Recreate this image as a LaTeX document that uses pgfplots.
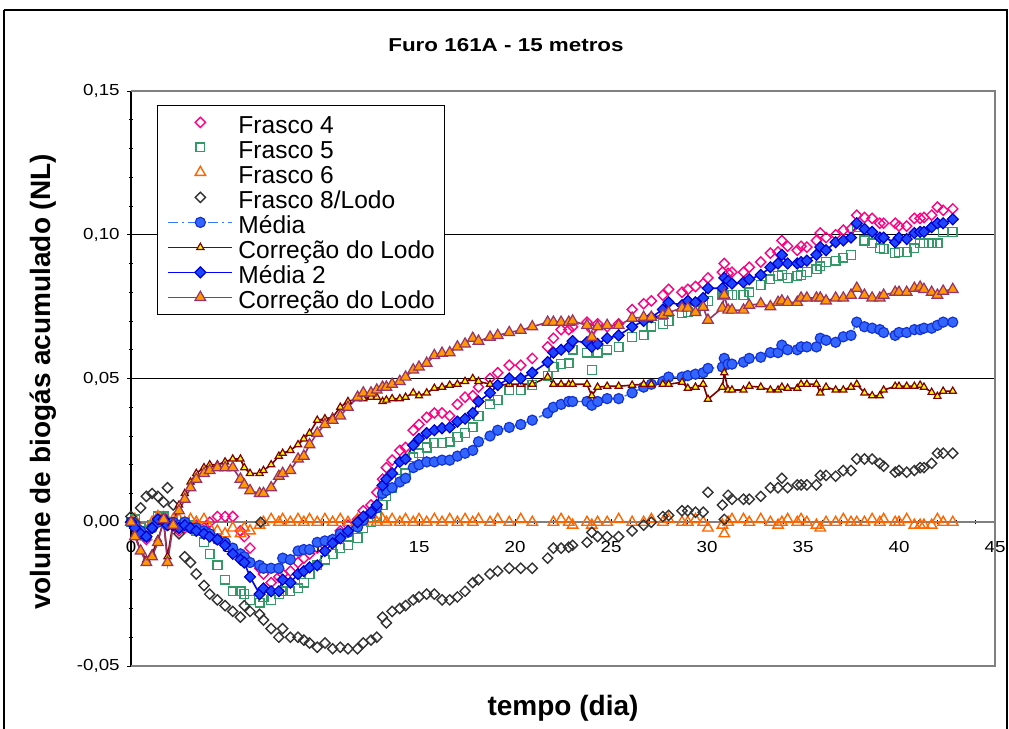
\documentclass[border=0pt]{standalone}
\usepackage{fontspec}
\setmainfont{Liberation Sans}
\usepackage{pgfplots}
\usepackage{pgfplotstable}
\pgfplotsset{compat=1.18}

\definecolor{f4col}{RGB}{255,0,128}
\definecolor{f5col}{RGB}{51,153,102}
\definecolor{f6col}{RGB}{255,102,0}
\definecolor{f8col}{RGB}{51,51,51}
\definecolor{medfill}{RGB}{51,102,255}
\definecolor{mededge}{RGB}{20,50,210}
\definecolor{medline}{RGB}{51,120,255}
\definecolor{corline}{RGB}{128,0,0}
\definecolor{coryel}{RGB}{255,255,0}
\definecolor{med2fill}{RGB}{30,70,255}
\definecolor{med2edge}{RGB}{0,0,204}
\definecolor{med2line}{RGB}{0,0,255}
\definecolor{cor2line}{RGB}{153,51,102}
\definecolor{cor2fill}{RGB}{255,153,0}

% d = tempo (dia); volumes acumulados em NL
\pgfplotstableread{
d     f4      f5      f6      f8      med     cor     med2    cor2
0.0   0.000   0.000   0.000   0.002   0.000   0.000   0.000   0.000
0.2  -0.002   0.001   0.001   0.000  -0.001  -0.004  -0.002  -0.005
0.5  -0.004  -0.002  -0.003   0.005  -0.003  -0.010  -0.004  -0.010
0.8  -0.006  -0.003  -0.005   0.009  -0.005  -0.013  -0.005  -0.014
1.1  -0.002  -0.001   0.000   0.010  -0.002  -0.011  -0.002  -0.012
1.4   0.001   0.002   0.002   0.009   0.000  -0.006   0.001  -0.007
1.7   0.002   0.002   0.001   0.007   0.001   0.000   0.001   0.001
1.9  -0.001   0.000   0.000   0.012  -0.001  -0.012  -0.001  -0.014
2.2  -0.001   0.000   0.001   0.006   0.000   0.000  -0.001  -0.001
2.5  -0.003  -0.001   0.001  -0.004  -0.001   0.006  -0.002   0.004
2.8  -0.002   0.000   0.000  -0.012   0.000   0.010  -0.001   0.008
3.1  -0.002  -0.001   0.001  -0.014  -0.002   0.014  -0.002   0.012
3.4  -0.001  -0.003   0.000  -0.018  -0.002   0.017  -0.003   0.015
3.8  -0.002  -0.007   0.001  -0.022  -0.003   0.019  -0.004   0.017
4.1   0.000  -0.011  -0.002  -0.025  -0.004   0.020  -0.005   0.018
4.5   0.002  -0.015  -0.003  -0.027  -0.006   0.020  -0.006   0.019
4.9   0.002  -0.020  -0.004  -0.029  -0.007   0.021  -0.008   0.019
5.3   0.002  -0.024  -0.002  -0.031  -0.009   0.022  -0.011   0.019
5.7  -0.003  -0.024  -0.004  -0.033  -0.011   0.022  -0.013   0.015
5.9  -0.005  -0.025  -0.002  -0.029  -0.012   0.019  -0.014   0.013
6.2  -0.009  -0.027  -0.003  -0.031  -0.014   0.017  -0.019   0.011
6.7  -0.016  -0.028  -0.001  -0.032  -0.015   0.017  -0.025   0.010
6.75  nan     nan     nan     0.000   nan     nan     nan     nan
6.9  -0.018  -0.026   0.000  -0.034  -0.016   0.018  -0.023   0.010
7.3  -0.021  -0.027   0.001  -0.037  -0.016   0.020  -0.024   0.012
7.7  -0.019  -0.025   0.000  -0.040  -0.016   0.023  -0.024   0.016
7.9  -0.018  -0.024   0.001  -0.037  -0.0125  0.024  -0.020   0.017
8.3  -0.017  -0.024   0.000  -0.040  -0.013   0.025  -0.021   0.018
8.7  -0.014  -0.023   0.001  -0.040  -0.010   0.027  -0.018   0.022
9.0  -0.0125 -0.021   0.000  -0.041  -0.0095  0.029  -0.017   0.023
9.3  -0.011  -0.018   0.001  -0.042  -0.0095  0.031  -0.0157  0.027
9.7  -0.009  -0.015   0.000  -0.0435 -0.007   0.0355 -0.015   0.031
10.1 -0.007  -0.013   0.001  -0.042  -0.0065  0.036  -0.010   0.034
10.5 -0.006  -0.011   0.000  -0.044  -0.006   0.0365 -0.0073  0.0355
10.9 -0.003  -0.009   0.001  -0.0435 -0.004   0.040  -0.0056  0.037
11.3 -0.001  -0.008   0.000  -0.044  -0.0035  0.042  -0.003   0.040
11.8  0.001  -0.0055  0.001  -0.044  -0.0017  0.043   0.000   0.0435
12.1  0.004  -0.002   0.000  -0.042   0.0007  0.043   0.002   0.045
12.5  0.006   0.000   0.001  -0.041   0.003   0.0435  0.0035  0.045
12.8  0.0104  0.002   0.000  -0.040   0.005   0.0435  0.006   0.046
13.1  0.015   0.006   0.001  -0.033   0.010   0.042   0.0128  0.047
13.3  0.019   0.009   0.000  -0.035   0.011   0.0425  0.015   0.047
13.6  0.0216  0.012   0.001  -0.031   0.012   0.043   0.017   0.048
14.0  0.025   0.015   0.000  -0.030   0.014   0.043   0.021   0.049
14.3  0.026   0.017   0.001  -0.029   0.0153  0.0435  0.022   0.0505
14.7  0.032   0.0226  0.000  -0.027   0.019   0.045   0.0268  0.053
15.0  0.034   0.024   0.001  -0.026   0.020   0.044   0.029   0.054
15.4  0.0365  0.026   0.000  -0.025   0.021   0.045   0.031   0.0553
15.8  0.038   0.0275  0.001  -0.025   0.021   0.0466  0.032   0.058
16.2  0.038   0.0275  0.000  -0.027   0.0216  0.047   0.0327  0.0588
16.6  0.037   0.028   0.001  -0.027   0.0216  0.0477  0.033   0.059
17.0  0.041   0.0296  0.000  -0.026   0.023   0.048   0.035   0.061
17.4  0.0435  0.031   0.001  -0.024   0.024   0.049   0.036   0.062
17.8  0.044   0.033   0.000  -0.021   0.025   0.050   0.038   0.064
18.1  0.047   0.037   0.001  -0.020   0.028   0.049   0.042   0.063
18.7  0.050   0.041   0.000  -0.018   0.030   0.048   0.045   0.0644
19.1  0.052   0.0425  0.001  -0.017   0.032   0.0477  0.0477  0.065
19.7  0.0546  0.046   0.000  -0.016   0.033   0.048   0.050   0.066
20.3  0.0546  0.046   0.001  -0.016   0.034   0.048   0.050   0.0668
20.9  0.057   0.0477  0.000  -0.016   0.0355  0.048   0.052   0.068
21.7  0.061   0.051   nan    -0.0125  0.038   0.0505  0.0557  0.0696
22.0  0.064   0.054   0.000  -0.009   0.040   0.048   0.059   0.0696
22.4  0.067   0.055   0.001  -0.009   0.041   0.048   0.060   0.0696
22.8  0.067   0.0553  0.000  -0.0087  0.042   0.048   0.061   0.0696
23.0  0.068   0.060  -0.001  -0.008   0.042   0.048   0.063   0.070
23.75 0.0696  0.059   0.000  -0.007   0.042   0.048   0.0626  0.0685
24.0  0.067   0.053  -0.001  -0.0035  0.0407  0.044   0.061   0.0644
24.3  0.069   0.059   0.000  -0.005   0.042   0.047   0.062   0.068
24.8  0.068   0.060   0.000  -0.005   0.043   0.0473  0.064   0.0685
25.4  0.069   0.061   0.001  -0.005   0.043   0.0473  0.065   0.0685
26.1  0.074   0.0645  0.000  -0.003   0.045   0.0477  0.068   0.071
26.7  0.076   0.065   0.000  -0.001   0.047   0.048   0.070   0.0713
27.1  0.077   0.068   0.001   0.000   0.048   0.048   0.0713  0.0713
27.7  0.079   0.069   0.000   0.002   0.049   0.048   0.074   0.072
28.0  0.081   0.070   0.001   0.0024  0.0505  0.048   0.0765  0.073
28.7  0.080   0.0727  0.000   0.004   0.0505  0.0487  0.0755  0.0745
29.0  0.081   0.073   0.000   0.004   0.051   0.0466  0.077   0.0745
29.4  0.082   0.074   0.001   0.0035  0.0515  0.047   0.0765  0.073
29.8  0.083   0.076   0.000   0.0035  0.052   0.048   0.078   0.0748
30.05 0.085   0.077  -0.002   0.0104  0.0535  0.0428  0.0814  0.0703
30.8  0.087   0.079  -0.001   0.006   0.054   0.047   0.0814  0.0745
30.9  0.090   0.079  -0.004   0.001   0.057   0.052   0.085   0.079
31.1  0.0866  0.079   0.000   0.0094  0.055   0.046   0.084   0.0738
31.3  0.087   0.079   0.001   0.008   0.055   0.046   0.083   0.0738
31.9  0.087   0.079   0.001   0.008   0.0557  0.046   0.0835  0.0738
32.2  0.0887  0.080   0.000   0.008   0.057   0.0473  0.0845  0.0755
32.8  0.0905  0.0825  0.001   0.009   0.0574  0.047   0.086   0.076
33.3  0.0936  0.0845  0.000   0.012   0.059   0.046   0.0887  0.075
33.7  0.094   0.0856 -0.001   0.012   0.059   0.046   0.090   0.0765
33.9  0.098   0.086   0.000   0.0153  0.0616  0.047   0.093   0.077
34.2  0.096   0.085   0.001   0.012   0.060   0.0466  0.090   0.0765
34.7  0.0946  0.0856  0.000   0.013   0.060   0.0466  0.090   0.0765
34.9  0.096   0.086   0.001   0.013   0.061   0.048   0.0905  0.078
35.2  0.0957  0.087   0.000   0.013   0.061   0.048   0.091   0.078
35.7  0.098   0.088  -0.001   0.013   0.061   0.048   0.093   0.078
35.9  0.1006  0.089  -0.002   0.0163  0.064   0.045   0.0957  0.078
36.2  0.099   0.0905  0.000   0.0163  0.0633  0.047   0.0946  0.077
36.7  0.100   0.091   0.000   0.016   0.0626  0.046   0.0974  0.078
37.1  0.1016  0.092   0.001   0.018   0.0645  0.046   0.098   0.078
37.5  0.102   0.093   0.000   0.018   0.065   0.047   0.099   0.079
37.8  0.1068  0.1026  0.000   0.022   0.0696  0.048   0.104   0.0814
38.2  0.106   0.098   0.000   0.022   0.068   0.045   0.102   0.079
38.6  0.1057  0.097   0.001   0.022   0.0675  0.044   0.101   0.078
39.0  0.104   0.0953  0.000   0.0205  0.067   0.044   0.099   0.078
39.2  0.104   0.095   0.001   0.0195  0.066   0.046   0.099   0.079
39.8  0.104   0.0936  0.000   0.0174  0.065   0.0473  0.0974  0.080
40.0  0.103   0.094   0.000   0.018   0.066   0.0473  0.099   0.080
40.4  0.103   0.094   0.001   0.0174  0.066   0.0473  0.0985  0.080
40.8  0.1057  0.0953 -0.001   0.018   0.067   0.0473  0.1006  0.0814
41.1  0.1057  0.097  -0.001   0.019   0.067   0.0477  0.101   0.0818
41.3  0.106   0.097  -0.001   0.019   0.0675  0.047   0.101   0.081
41.7  0.1068  0.097  -0.001   0.0205  0.0675  0.0452  0.1026  0.080
42.0  0.1096  0.097   0.001   0.024   0.0685  0.0438  0.104   0.079
42.3  0.1085  0.101   0.000   0.024   0.0696  0.0456  0.104   0.0804
42.8  0.109   0.101   0.000   0.024   0.0696  0.0456  0.1054  0.081
}\biogas

\newcommand\tl[1]{\scalebox{1.17}[1]{#1}}

\pgfplotsset{
  legline/.style={legend image code/.code={%
    \draw[mark repeat=2,mark phase=2,##1] plot coordinates {(0pt,0pt) (24pt,0pt) (48pt,0pt)};}},
}

\begin{document}
\begin{tikzpicture}
\useasboundingbox (0pt,0pt) rectangle (756.75pt,546pt);
% moldura do gráfico
\draw[black, line width=1.1pt] (3pt,538.5pt) -- (755.25pt,538.5pt) -- (755.25pt,-5pt);
\draw[black, line width=1.1pt] (3pt,538.5pt) -- (3pt,-5pt);
% título
\node[font=\fontsize{14}{16}\selectfont\bfseries] at (379.5pt,512.25pt) {\scalebox{1.2}[1]{Furo 161A - 15 metros}};
% rótulos dos eixos
\node[rotate=90, font=\fontsize{21}{24}\selectfont\bfseries] at (32.25pt,259.5pt) {volume de biogás acumulado (NL)};
\node[font=\fontsize{21}{24}\selectfont\bfseries] at (422.25pt,15pt) {tempo (dia)};

\begin{axis}[
  at={(98.25pt,46.5pt)}, anchor=south west,
  scale only axis, width=648pt, height=431.25pt,
  xmin=0, xmax=45, ymin=-0.05, ymax=0.15,
  enlargelimits=false, clip=false,
  axis x line*=middle, axis y line*=left,
  hide obscured x ticks=false, hide obscured y ticks=false,
  x axis line style={draw=gray, line width=1.2pt},
  y axis line style={draw=black, line width=1.2pt},
  xtick={0,5,...,45},
  xticklabels={\tl{0},\tl{5},\tl{10},\tl{15},\tl{20},\tl{25},\tl{30},\tl{35},\tl{40},\tl{45}},
  ytick={-0.05,0,0.05,0.1,0.15},
  yticklabels={\tl{-0,05},\tl{0,00},\tl{0,05},\tl{0,10},\tl{0,15}},
  minor x tick num=4, minor y tick num=4,
  tick align=center, major tick length=5.5pt, minor tick length=3pt,
  tick style={black, line width=0.7pt},
  ticklabel style={font=\fontsize{12}{13}\selectfont},
  xticklabel style={yshift=-8pt},
  yticklabel style={xshift=-2.25pt},
  /pgf/number format/assume math mode=true,
  legend style={at={(axis description cs:0.0301,0.9757)}, anchor=north west,
    draw=black, line width=0.8pt, fill=white,
    font=\fontsize{18.4}{20}\selectfont,
    inner xsep=7.5pt, inner ysep=4pt, row sep=1.45pt,
    nodes={inner sep=0pt, text height=17.3pt, text depth=0pt},
    /tikz/every odd column/.append style={column sep=4pt}},
  legend cell align=left,
]
% grade horizontal e contorno da área de plotagem
\draw[black, line width=0.75pt] (axis cs:0,0.05) -- (axis cs:45,0.05);
\draw[black, line width=0.75pt] (axis cs:0,0.10) -- (axis cs:45,0.10);
\draw[gray, line width=1.2pt] (axis cs:0,-0.05) -- (axis cs:45,-0.05) -- (axis cs:45,0.15) -- (axis cs:0,0.15);

\addplot[only marks, legline, mark=square, mark size=2.7pt, f4col, line width=1.05pt, mark options={rotate=45}]
  table[x=d, y=f4] {\biogas};
\addlegendentry{Frasco 4}
\addplot[only marks, legline, mark=square, mark size=3.3pt, f5col, line width=1.05pt]
  table[x=d, y=f5] {\biogas};
\addlegendentry{Frasco 5}
\addplot[only marks, legline, mark=triangle, mark size=4.5pt, f6col, line width=1.05pt]
  table[x=d, y=f6] {\biogas};
\addlegendentry{Frasco 6}
\addplot[only marks, legline, mark=square, mark size=2.7pt, f8col, line width=1.05pt, mark options={rotate=45}]
  table[x=d, y=f8] {\biogas};
\addlegendentry{Frasco 8/Lodo}
\addplot[legline, medline, line width=1.1pt, dash pattern=on 7pt off 3pt on 2pt off 3pt,
  mark=*, mark size=3.8pt, mark options={solid, fill=medfill, draw=mededge, line width=0.9pt}]
  table[x=d, y=med] {\biogas};
\addlegendentry{Média}
\addplot[legline, corline, line width=1.2pt,
  mark=triangle*, mark size=3.1pt, mark options={fill=coryel, draw=corline, line width=0.9pt}]
  table[x=d, y=cor] {\biogas};
\addlegendentry{Correção do Lodo}
\addplot[legline, med2line, line width=1.2pt,
  mark=square*, mark size=2.9pt, mark options={rotate=45, fill=med2fill, draw=med2edge, line width=0.9pt}]
  table[x=d, y=med2] {\biogas};
\addlegendentry{Média 2}
\addplot[legline, cor2line, line width=1.2pt,
  mark=triangle*, mark size=4.6pt, mark options={fill=cor2fill, draw=cor2line, line width=0.9pt}]
  table[x=d, y=cor2] {\biogas};
\addlegendentry{Correção do Lodo}
\end{axis}
\end{tikzpicture}
\end{document}
